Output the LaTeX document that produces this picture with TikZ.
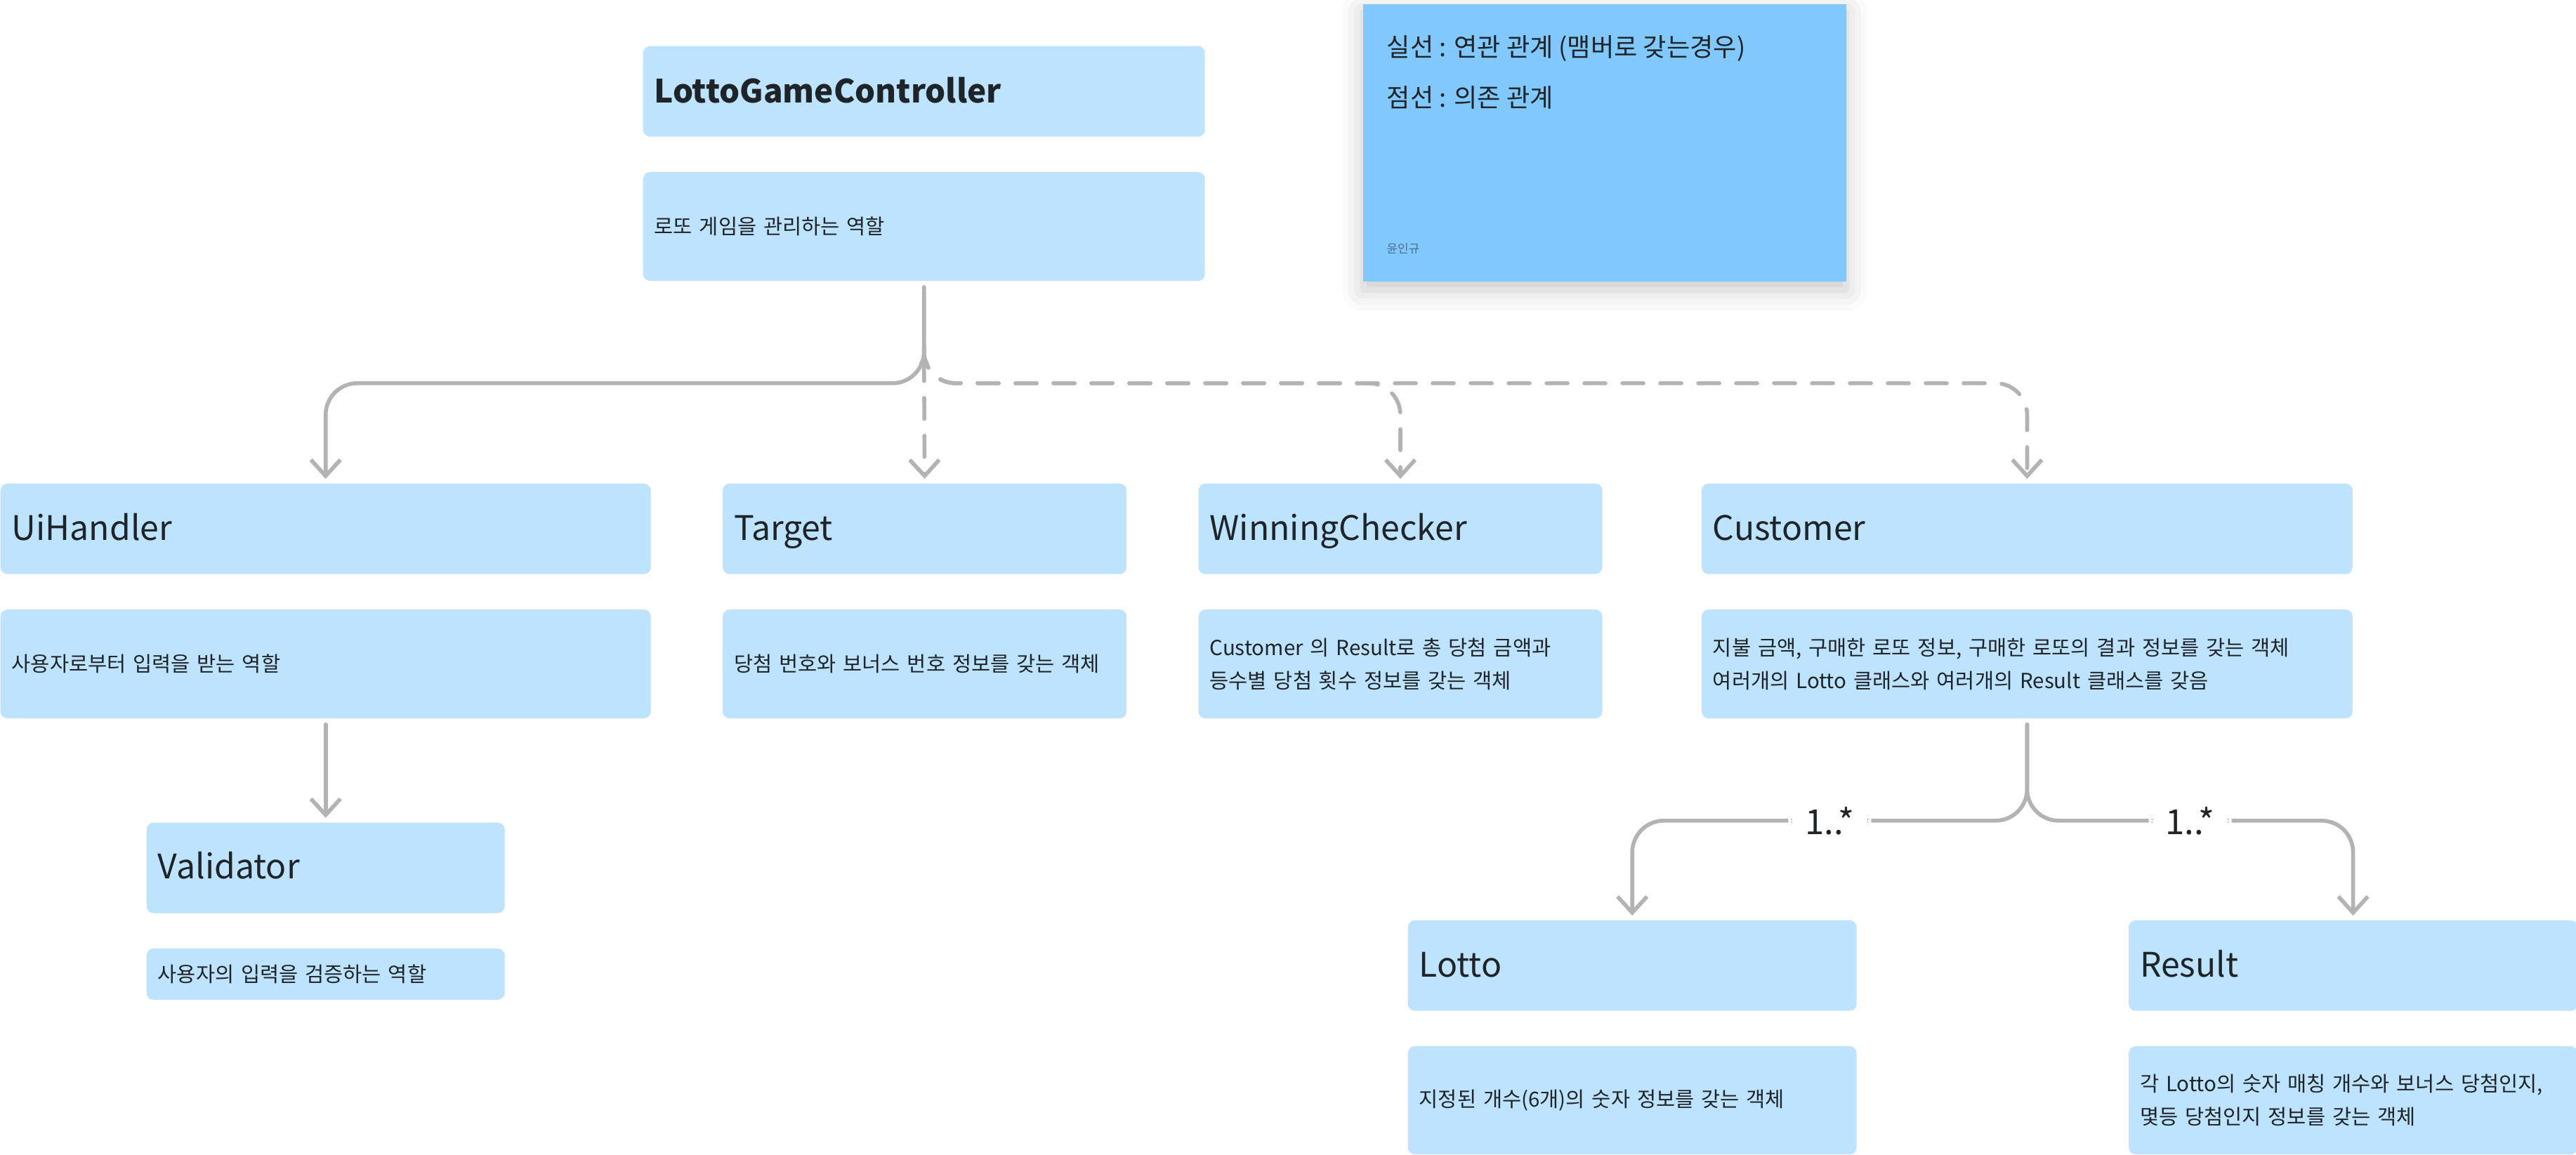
\documentclass[tikz,border=0pt]{standalone}
\usepackage{fontspec}
\setmainfont{Noto Sans CJK KR}
\usetikzlibrary{positioning, arrows.meta, calc, shadows.blur}
\definecolor{boxblue}{HTML}{BDE3FE}
\definecolor{noteblue}{HTML}{81C8FF}
\definecolor{linegray}{HTML}{B3B3B3}
\definecolor{inkdark}{HTML}{1F2429}
\definecolor{authorgray}{HTML}{4A6E90}

\begin{document}
\begin{tikzpicture}[>={Straight Barb[length=2.3mm, width=4.2mm]},
    card/.style = {fill=boxblue, rounded corners=0.1cm, text=inkdark, align=left, inner xsep=0.16cm, inner ysep=0pt},
    cls/.style = {card, minimum height=1.29cm, text height=9pt, text depth=0pt, font=\fontsize{13.7}{16}\selectfont},
    info/.style = {card, minimum height=1.55cm, font=\fontsize{8.4}{13.4}\selectfont},
    assoc/.style = {draw=linegray, line width=1.6pt, rounded corners=0.45cm, line cap=round, shorten <=0.8mm, shorten >=0.6mm},
    dep/.style = {assoc, dash pattern=on 0.3cm off 0.24cm},
    mult/.style = {fill=white, text=inkdark, inner xsep=0.24cm, inner ysep=0.05cm, font=\fontsize{14}{16}\selectfont}]
    \useasboundingbox (0,0) rectangle (36.68,-16.44);

    \node[cls, text width=7.68cm, anchor=north west, font=\bfseries\fontsize{13}{16}\selectfont] (lgc) at (9.15,-0.65) {LottoGameController};
    \node[info, text width=7.68cm] (lgcdesc) [below=0.49cm of lgc] {로또 게임을 관리하는 역할};

    \node[fill=noteblue, minimum width=6.88cm, minimum height=3.95cm, anchor=north west, blur shadow={shadow xshift=0pt, shadow yshift=-0.12cm, shadow blur radius=0.3cm, shadow opacity=22}] (note) at (19.40,-0.05) {};
    \node[anchor=base west, inner sep=0pt, text=inkdark, font=\fontsize{10.3}{12}\selectfont] (solidkey) at (19.74,-0.80) {실선 : 연관 관계 (맴버로 갖는경우)};
    \node[anchor=base west, inner sep=0pt, text=inkdark, font=\fontsize{10.3}{12}\selectfont] (dashkey) at (19.74,-1.52) {점선 : 의존 관계};
    \node[anchor=base west, inner sep=0pt, text=authorgray, font=\fontsize{4.8}{6}\selectfont] (author) at (19.74,-3.60) {윤인규};

    \node[cls, text width=8.94cm, anchor=north west] (uih) at (0,-6.88) {UiHandler};
    \node[cls, text width=5.43cm] (target) [right=1.01cm of uih] {Target};
    \node[cls, text width=5.43cm] (wc) [right=1.01cm of target] {WinningChecker};
    \node[cls, text width=8.95cm] (cust) [right=1.40cm of wc] {Customer};
    \node[info, text width=8.94cm] (uihdesc) [below=0.49cm of uih] {사용자로부터 입력을 받는 역할};
    \node[info, text width=5.43cm] (targetdesc) [below=0.49cm of target] {당첨 번호와 보너스 번호 정보를 갖는 객체};
    \node[info, text width=5.43cm] (wcdesc) [below=0.49cm of wc] {Customer 의 Result로 총 당첨 금액과\\등수별 당첨 횟수 정보를 갖는 객체};
    \node[info, text width=8.95cm] (custdesc) [below=0.49cm of cust] {지불 금액, 구매한 로또 정보, 구매한 로또의 결과 정보를 갖는 객체\\여러개의 Lotto 클래스와 여러개의 Result 클래스를 갖음};

    \node[cls, text width=4.78cm] (val) [below=1.47cm of uihdesc] {Validator};
    \node[info, text width=4.78cm, minimum height=0.73cm] (valdesc) [below=0.49cm of val] {사용자의 입력을 검증하는 역할};

    \node[cls, text width=6.07cm, anchor=north west] (lotto) at (20.04,-13.10) {Lotto};
    \node[cls, text width=6.07cm] (result) [right=3.86cm of lotto] {Result};
    \node[info, text width=6.07cm, minimum height=1.54cm] (lottodesc) [below=0.49cm of lotto] {지정된 개수(6개)의 숫자 정보를 갖는 객체};
    \node[info, text width=6.07cm, minimum height=1.54cm] (resultdesc) [below=0.49cm of result] {각 Lotto의 숫자 매칭 개수와 보너스 당첨인지,\\몇등 당첨인지 정보를 갖는 객체};

    \coordinate (hub) at ($(lgcdesc.south)+(0,-1.02)$);
    \draw[assoc, ->] (lgcdesc.south) -- ++(0,-1.45) -| (uih.north);
    \draw[dep, {Stealth[length=1.6mm, width=1.5mm]}->, shorten <=0pt] (hub) -- (target.north);
    \draw[dep, ->] (hub) -- ++(0,-0.43) -| (wc.north);
    \draw[dep, ->] (hub) -- ++(0,-0.43) -| (cust.north);
    \draw[assoc, ->] (uihdesc.south) -- (val.north);
    \draw[assoc, ->] (custdesc.south) -- ++(0,-1.45) -| node[mult, pos=0.25] (lottomult) {1..*} (lotto.north);
    \draw[assoc, ->] (custdesc.south) -- ++(0,-1.45) -| node[mult, pos=0.25] (resultmult) {1..*} (result.north);
\end{tikzpicture}
\end{document}
